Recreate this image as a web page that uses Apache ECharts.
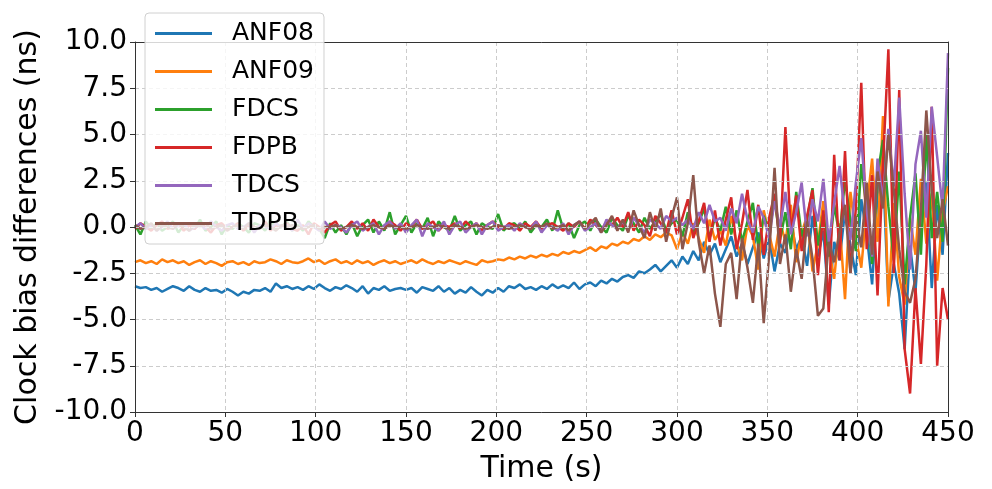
<!DOCTYPE html>
<html>
<head>
<meta charset="utf-8">
<script src="https://cdn.jsdelivr.net/npm/echarts@6/dist/echarts.min.js"></script>
<style>html,body{margin:0;padding:0;background:#fff}#c{width:992px;height:489px}</style>
</head>
<body>
<div id="c"></div>
<script>
// sampling grid: 0..450 s every 3 s
const STEP = 3;
const N = 151;
const names = ['ANF08','ANF09','FDCS','FDPB','TDCS','TDPB'];
const colors = ['#1f77b4','#ff7f0e','#2ca02c','#d62728','#9467bd','#8c564b'];
const xTicks = [0,50,100,150,200,250,300,350,400,450];
const yTicks = [-10,-7.5,-5,-2.5,0,2.5,5,7.5,10];

const ANF08 = [
-3.2,-3.3,-3.25,-3.4,-3.3,-3.5,-3.35,-3.2,-3.3,-3.45,
-3.2,-3.4,-3.5,-3.3,-3.45,-3.4,-3.55,-3.35,-3.5,-3.7,
-3.5,-3.6,-3.4,-3.45,-3.3,-3.5,-3.05,-3.3,-3.2,-3.35,
-3.25,-3.4,-3.2,-3.35,-3.1,-3.3,-3.45,-3.25,-3.35,-3.15,
-3.3,-3.5,-3.2,-3.6,-3.3,-3.4,-3.2,-3.45,-3.35,-3.3,
-3.4,-3.3,-3.55,-3.25,-3.35,-3.45,-3.2,-3.5,-3.3,-3.6,
-3.4,-3.55,-3.25,-3.5,-3.7,-3.4,-3.55,-3.3,-3.5,-3.2,
-3.3,-3.1,-3.35,-3.25,-3.4,-3.2,-3.35,-3.1,-3.3,-3.15,
-3.3,-3.0,-3.35,-3.1,-3.0,-3.2,-2.9,-3.05,-2.8,-2.95,
-2.7,-2.6,-2.75,-2.4,-2.5,-2.3,-2.05,-2.4,-2.1,-1.8,
-2.2,-1.6,-2.0,-1.3,-1.8,-0.8,-1.5,-0.9,-1.9,-1.2,
-0.5,-1.6,-0.9,-2.0,-1.1,-0.3,-1.7,-0.6,-2.4,-0.9,
-1.4,0.3,-1.2,-0.5,-2.1,0.6,-1.6,-0.2,-4.2,-0.8,
-1.8,0.9,-1.0,-2.6,1.5,-0.4,-3.1,1.8,3.2,-4.0,
-2.0,-3.6,-6.6,-1.0,-3.5,0.8,2.4,-3.3,1.2,-1.5,4.0];

const ANF09 = [
-1.9,-1.8,-1.95,-1.85,-2.0,-1.75,-1.9,-1.8,-1.95,-1.85,
-2.05,-1.9,-1.8,-2.0,-1.85,-1.95,-2.1,-1.9,-1.85,-2.0,
-1.9,-2.05,-1.85,-1.95,-1.9,-1.75,-1.85,-2.0,-1.8,-1.9,
-1.95,-1.85,-1.7,-1.9,-1.8,-2.0,-1.85,-1.75,-1.95,-1.85,
-2.0,-1.8,-1.95,-1.85,-2.05,-1.9,-1.8,-1.95,-1.85,-2.0,
-1.9,-1.8,-1.95,-1.75,-1.9,-2.0,-1.85,-1.95,-1.8,-1.9,
-2.0,-1.85,-1.95,-2.05,-1.8,-1.9,-1.85,-1.75,-1.8,-1.65,
-1.75,-1.6,-1.7,-1.55,-1.65,-1.5,-1.6,-1.45,-1.55,-1.35,
-1.45,-1.3,-1.4,-1.25,-1.1,-1.3,-1.05,-1.15,-0.9,-1.0,
-0.8,-0.9,-0.65,-0.75,-0.5,-0.7,-0.4,-0.55,-0.3,-0.45,
-1.2,-0.3,-0.9,0.2,-0.6,-1.4,0.4,-0.7,-0.2,-1.0,
0.6,-0.9,-1.8,0.1,-0.5,-2.3,0.9,-0.4,-1.6,0.3,
-0.8,1.2,-1.9,-0.3,0.6,-2.4,-0.9,1.4,-1.1,-2.8,
0.2,-3.9,1.9,-0.5,-2.2,1.0,3.7,-0.8,6.0,-4.3,
1.3,-2.7,-4.2,0.5,-1.5,2.6,-0.9,1.8,-2.9,0.8,2.2];

const FDCS = [
0.1,-0.4,0.3,-0.1,0.2,-0.2,0.0,0.3,-0.3,0.1,
0.2,-0.1,0.4,-0.2,0.0,0.3,-0.4,0.1,-0.1,0.2,
0.0,-0.3,0.2,0.1,-0.2,0.4,-0.1,0.0,0.3,-0.2,
0.1,-0.2,0.3,0.0,-0.1,-0.6,0.2,-0.3,0.1,-0.4,
0.2,-0.5,0.1,0.4,-0.3,0.3,-0.2,0.8,-0.4,0.1,
0.6,-0.3,0.2,-0.1,0.5,-0.5,0.3,0.0,-0.2,0.6,
-0.2,0.1,0.3,-0.4,0.2,0.0,-0.1,0.7,-0.2,0.1,
0.2,-0.1,0.3,-0.3,0.1,0.0,0.4,-0.2,0.9,-0.1,
0.2,-0.6,0.1,0.3,-0.2,0.4,0.0,-0.3,0.5,0.1,
-0.2,0.6,0.2,-0.3,0.5,-0.1,0.3,0.7,-0.2,0.2,
0.4,-0.5,0.8,-0.3,0.2,1.0,-0.6,0.5,-0.2,1.1,
-0.4,0.9,-0.8,0.3,1.3,-1.1,0.6,-0.3,1.5,-0.7,
0.8,-1.2,1.9,-0.5,0.4,2.1,-1.0,0.7,-1.6,1.2,
-0.5,2.6,0.3,-1.3,3.4,0.9,-2.0,2.8,4.7,1.1,
-1.8,3.0,-3.1,0.5,2.9,-1.5,5.0,-0.6,1.9,-0.8,8.6];

const FDPB = [
-0.1,0.2,0.0,-0.2,0.1,0.3,-0.1,0.0,0.2,-0.2,
0.1,-0.1,0.2,0.0,-0.3,0.1,0.2,-0.1,0.0,0.2,
-0.2,0.1,0.0,-0.1,0.3,-0.2,0.1,0.0,0.2,-0.1,
-0.2,0.1,-0.4,0.2,0.0,-0.3,0.1,0.3,-0.2,0.0,
0.3,-0.1,0.2,-0.2,0.4,0.0,-0.1,0.3,0.1,-0.2,
0.2,0.0,0.4,-0.1,0.1,0.3,-0.2,0.1,0.0,0.2,
-0.1,0.3,0.0,0.2,-0.2,0.1,0.3,0.0,-0.1,0.2,
0.1,-0.2,0.2,0.0,0.3,-0.1,0.1,0.2,0.0,-0.2,
0.2,0.0,0.3,-0.1,0.4,0.1,-0.2,0.3,0.1,0.5,
0.0,0.8,-0.2,0.4,0.1,-0.5,0.6,0.2,-0.3,0.9,
-0.4,0.5,1.5,-0.6,0.3,1.3,-0.8,0.9,-1.0,0.4,
1.6,-1.2,0.2,2.0,-0.7,1.2,-1.5,0.5,1.8,-0.9,
5.4,-0.3,1.7,-1.3,0.6,2.0,-2.6,0.9,-4.6,3.9,
-1.8,4.1,-2.5,1.0,7.8,-1.2,2.8,-3.7,3.4,9.6,
-2.5,7.4,-6.6,-9.0,-3.3,-7.4,-2.0,6.5,-7.5,-3.3,-5.0];

const TDCS = [
0.0,0.2,-0.1,0.1,-0.2,0.0,0.3,-0.1,0.1,0.2,
-0.2,0.0,0.1,-0.1,0.3,0.0,-0.2,0.1,0.2,-0.1,
0.0,0.2,-0.3,0.1,0.0,-0.1,0.2,0.0,0.1,-0.2,
0.4,-0.1,0.2,0.0,-0.2,0.3,-0.1,0.1,0.0,-0.3,
0.1,0.3,-0.2,0.0,0.2,-0.4,0.1,0.3,-0.1,0.2,
-0.3,0.1,0.4,-0.5,0.2,0.0,-0.2,0.3,-0.4,0.1,
0.3,-0.3,0.0,0.2,-0.4,0.1,0.3,-0.2,0.0,0.1,
-0.2,0.2,0.0,-0.1,0.3,-0.3,0.1,0.0,-0.2,0.2,
-0.4,0.1,0.3,-0.2,0.0,0.2,-0.3,0.4,0.1,-0.1,
0.3,-0.2,0.5,0.1,-0.3,0.4,0.2,-0.1,0.6,0.3,
0.5,0.1,0.4,-0.1,0.8,0.2,1.2,0.3,0.5,-0.2,
1.0,0.2,1.8,0.4,-0.3,1.1,0.5,-0.6,1.4,0.0,
1.9,-0.4,0.8,2.4,-0.5,1.5,0.3,2.6,-0.8,1.3,
3.3,0.5,-0.7,2.4,4.8,0.9,-1.6,3.7,1.4,5.3,
2.2,7.0,1.8,-2.3,3.4,5.2,0.5,6.5,3.8,1.0,9.4];

const TDPB = [
0.1,-0.1,0.0,0.2,-0.2,0.1,0.0,-0.1,0.2,0.0,
-0.2,0.1,0.0,0.2,-0.1,0.0,0.1,-0.2,0.0,0.1,
-0.1,0.2,0.0,-0.1,0.1,0.0,-0.2,0.1,0.0,0.1,
0.0,-0.1,0.0,0.1,-0.1,0.0,0.0,0.1,-0.1,0.0,
0.1,0.0,-0.1,0.0,0.1,0.0,-0.1,0.1,0.0,0.0,
-0.1,0.0,0.1,0.0,-0.1,0.0,0.1,0.0,-0.1,0.1,
0.0,-0.1,0.0,0.1,0.0,-0.1,0.0,0.1,0.0,-0.1,
0.0,0.1,0.0,-0.1,0.1,0.0,0.2,-0.1,0.0,0.1,
-0.2,0.1,0.3,-0.1,0.2,0.5,-0.3,0.1,0.6,-0.2,
0.4,-0.3,0.9,0.1,-0.6,0.8,-0.2,1.0,-0.8,0.5,
1.6,-1.2,0.2,2.8,-0.8,-2.5,-1.0,-3.6,-5.4,-2.0,
-1.4,-3.9,-0.6,-2.2,-4.1,-0.9,-5.2,-1.5,3.2,-2.0,
-0.4,-3.5,-1.2,-2.8,0.3,-1.7,-4.8,-4.4,-0.8,-1.9,
-0.3,1.2,-2.5,0.6,-1.1,2.4,-1.5,3.0,1.0,5.0,
2.0,-1.2,-3.5,-4.1,-2.8,0.9,6.3,2.0,-0.6,1.5,-1.0];

const values = [ANF08, ANF09, FDCS, FDPB, TDCS, TDPB];
const times = [];
for (let i = 0; i < N; i++) times.push(i * STEP);

const FONT = 'DejaVu Sans';
const AX = '#333';
const chart = echarts.init(document.getElementById('c'), null, {renderer: 'canvas'});
const frameAxis = {show: true, lineStyle: {color: AX, width: 1}, onZero: false};
chart.setOption({
  animation: false,
  backgroundColor: '#fff',
  textStyle: {fontFamily: FONT},
  grid: {left: 135, right: 44, top: 42, bottom: 67},
  legend: {
    orient: 'vertical', left: 145, top: 13, z: 10,
    data: names,
    icon: 'rect', itemWidth: 57, itemHeight: 3, itemGap: 13,
    padding: [8, 10, 8, 10],
    backgroundColor: 'rgba(255,255,255,0.8)', borderColor: '#d0d0d0', borderWidth: 1, borderRadius: 4,
    textStyle: {fontFamily: FONT, fontSize: 25, color: '#000', padding: [0, 0, 0, 15]}
  },
  xAxis: [{
    type: 'value', min: 0, max: 450, interval: 50, position: 'bottom',
    name: 'Time (s)', nameLocation: 'middle', nameGap: 42,
    nameTextStyle: {fontFamily: FONT, fontSize: 30, color: '#000'},
    axisLine: frameAxis,
    axisTick: {show: true, length: 5, lineStyle: {color: AX}},
    axisLabel: {fontFamily: FONT, fontSize: 28, color: '#000', margin: 8},
    splitLine: {show: true, lineStyle: {color: '#ccc', type: [4, 3], width: 1}},
    z: 3
  }, {
    type: 'value', min: 0, max: 450, interval: 50, position: 'top',
    axisLine: frameAxis, axisTick: {show: false}, axisLabel: {show: false},
    splitLine: {show: false}, z: 3
  }],
  yAxis: [{
    type: 'value', min: -10, max: 10, interval: 2.5, position: 'left',
    name: 'Clock bias differences (ns)', nameLocation: 'middle', nameGap: 70,
    nameTextStyle: {fontFamily: FONT, fontSize: 30, color: '#000'},
    axisLine: frameAxis,
    axisTick: {show: true, length: 5, lineStyle: {color: AX}},
    axisLabel: {fontFamily: FONT, fontSize: 28, color: '#000', margin: 8,
      formatter: v => v.toFixed(1)},
    splitLine: {show: true, lineStyle: {color: '#ccc', type: [4, 3], width: 1}},
    z: 3
  }, {
    type: 'value', min: -10, max: 10, interval: 2.5, position: 'right',
    axisLine: frameAxis, axisTick: {show: false}, axisLabel: {show: false},
    splitLine: {show: false}, z: 3
  }],
  series: names.map((n, k) => ({
    name: n, type: 'line', showSymbol: false, symbol: 'none',
    xAxisIndex: 0, yAxisIndex: 0,
    data: times.map((t, i) => [t, values[k][i]]),
    lineStyle: {color: colors[k], width: 2.5},
    itemStyle: {color: colors[k]},
    z: 2
  }))
});
</script>
</body>
</html>
